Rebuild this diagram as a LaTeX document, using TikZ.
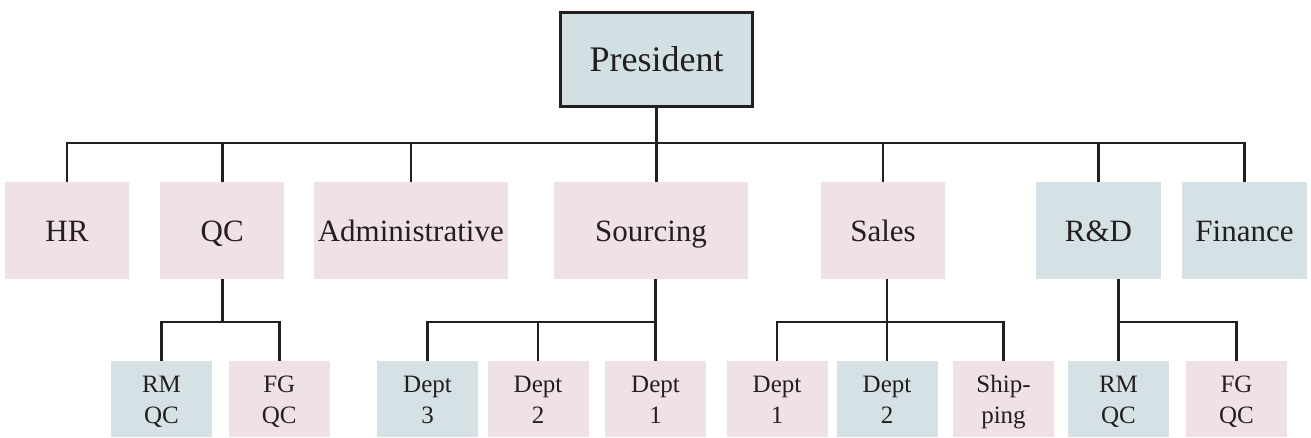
\documentclass[tikz,border=0pt]{standalone}
\usepackage{fontspec}
\setmainfont{Liberation Serif}
\definecolor{pinkbox}{RGB}{239,225,228}
\definecolor{bluebox}{RGB}{213,225,229}
\definecolor{presblue}{RGB}{210,223,227}
\definecolor{ink}{RGB}{35,31,32}
\tikzset{
  box/.style={rectangle, inner sep=0pt, align=center, text=ink},
  pinkb/.style={box, fill=pinkbox},
  blueb/.style={box, fill=bluebox},
  lvlone/.style={minimum height=97pt, text height=22pt, text depth=0pt,
                 font=\fontsize{31}{36}\selectfont},
  lvltwo/.style={minimum height=76pt, minimum width=101pt, text height=48pt, text depth=0pt,
                 font=\fontsize{25}{31}\selectfont},
  link/.style={draw=ink, line width=2.6pt},
}
\begin{document}
\begin{tikzpicture}[x=1pt, y=-1pt]
\useasboundingbox (0,0) rectangle (1311,437);

% top
\node[box, fill=presblue, draw=ink, line width=2.8pt, minimum width=192.2pt, minimum height=94.5pt,
      text height=24pt, text depth=0pt,
      font=\fontsize{36}{42}\selectfont] (pres) at (656.5,59.4) {President};

% level 1
\node[pinkb, lvlone, minimum width=124pt]   (hr)    at (67,230.5)    {HR};
\node[pinkb, lvlone, minimum width=124.5pt] (qc)    at (222.2,230.5) {QC};
\node[pinkb, lvlone, minimum width=193.6pt] (adm)   at (410.8,230.5) {Administrative};
\node[pinkb, lvlone, minimum width=194pt]   (src)   at (651,230.5)   {Sourcing};
\node[pinkb, lvlone, minimum width=124pt]   (sales) at (883,230.5)   {Sales};
\node[blueb, lvlone, minimum width=125pt]   (rd)    at (1098.5,230.5){R\&D};
\node[blueb, lvlone, minimum width=125pt]   (fin)   at (1244.5,230.5){Finance};

% level 2
\node[blueb, lvltwo] (qrm) at (161.5,399)  {RM\\QC};
\node[pinkb, lvltwo] (qfg) at (279.3,399)  {FG\\QC};
\node[blueb, lvltwo] (s3)  at (427.5,399)  {Dept\\3};
\node[pinkb, lvltwo] (s2)  at (538,399)    {Dept\\2};
\node[pinkb, lvltwo] (s1)  at (655.5,399)  {Dept\\1};
\node[pinkb, lvltwo] (a1)  at (777,399)    {Dept\\1};
\node[blueb, lvltwo] (a2)  at (887,399)    {Dept\\2};
\node[pinkb, lvltwo] (ash) at (1003.5,399) {Ship-\\ping};
\node[blueb, lvltwo] (rrm) at (1118.5,399) {RM\\QC};
\node[pinkb, lvltwo] (rfg) at (1236.5,399) {FG\\QC};

\coordinate (busy) at (0,143);
\coordinate (suby) at (0,322);

% top bus
\draw[link] (pres.south) -- (pres.south |- src.north);
\draw[link] (hr.north) -- (hr.north |- busy) -- (fin.north |- busy) -- (fin.north);
\draw[link] (qc.north) -- (qc.north |- busy);
\draw[link] (adm.north) -- (adm.north |- busy);
\draw[link] (sales.north) -- (sales.north |- busy);
\draw[link] (rd.north) -- (rd.north |- busy);

% QC
\draw[link] (qc.south) -- (qc.south |- suby);
\draw[link] (qrm.north) -- (qrm.north |- suby) -- (qfg.north |- suby) -- (qfg.north);

% Sourcing
\draw[link] (src.south -| s1.north) -- (s1.north);
\draw[link] (s3.north) -- (s3.north |- suby) -- (s1.north |- suby);
\draw[link] (s2.north) -- (s2.north |- suby);

% Sales
\draw[link] (sales.south -| a2.north) -- (a2.north);
\draw[link] (a1.north) -- (a1.north |- suby) -- (ash.north |- suby) -- (ash.north);

% R&D
\draw[link] (rd.south -| rrm.north) -- (rrm.north);
\draw[link] (rrm.north |- suby) -- (rfg.north |- suby) -- (rfg.north);
\end{tikzpicture}
\end{document}
